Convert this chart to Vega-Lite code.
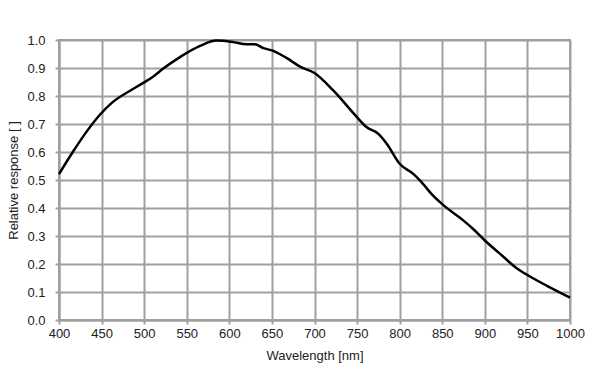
{
  "$schema": "https://vega.github.io/schema/vega-lite/v6.json",
  "width": 511,
  "height": 280,
  "autosize": "none",
  "padding": {"left": 59, "top": 40, "right": 30, "bottom": 59},
  "background": "white",
  "config": {
    "font": "Liberation Sans",
    "view": {"stroke": "#a0a0a0", "strokeWidth": 2}
  },
  "data": {
    "values": [
      {"wl": 400, "r": 0.521},
      {"wl": 416, "r": 0.599},
      {"wl": 432, "r": 0.671},
      {"wl": 448, "r": 0.733},
      {"wl": 463, "r": 0.778},
      {"wl": 483, "r": 0.818},
      {"wl": 498, "r": 0.845},
      {"wl": 510, "r": 0.868},
      {"wl": 522, "r": 0.897},
      {"wl": 542, "r": 0.939},
      {"wl": 565, "r": 0.978},
      {"wl": 585, "r": 0.998},
      {"wl": 604, "r": 0.993},
      {"wl": 620, "r": 0.985},
      {"wl": 630, "r": 0.985},
      {"wl": 640, "r": 0.971},
      {"wl": 651, "r": 0.962},
      {"wl": 667, "r": 0.936},
      {"wl": 683, "r": 0.905},
      {"wl": 700, "r": 0.882},
      {"wl": 722, "r": 0.82},
      {"wl": 750, "r": 0.724},
      {"wl": 761, "r": 0.689},
      {"wl": 775, "r": 0.665},
      {"wl": 785, "r": 0.629},
      {"wl": 800, "r": 0.558},
      {"wl": 816, "r": 0.522},
      {"wl": 824, "r": 0.498},
      {"wl": 839, "r": 0.445},
      {"wl": 851, "r": 0.411},
      {"wl": 875, "r": 0.355},
      {"wl": 886, "r": 0.326},
      {"wl": 900, "r": 0.284},
      {"wl": 918, "r": 0.236},
      {"wl": 937, "r": 0.186},
      {"wl": 951, "r": 0.159},
      {"wl": 973, "r": 0.122},
      {"wl": 1000, "r": 0.08}
    ]
  },
  "mark": {"type": "line", "color": "black", "strokeWidth": 2.5, "interpolate": "monotone"},
  "encoding": {
    "x": {
      "field": "wl", "type": "quantitative",
      "scale": {"domain": [400, 1000], "nice": false, "zero": false},
      "axis": {
        "title": "Wavelength [nm]", "values": [400,450,500,550,600,650,700,750,800,850,900,950,1000], "format": "d", "labelFlush": false,
        "grid": true, "gridColor": "#a0a0a0", "gridWidth": 2, "gridOpacity": 1,
        "domainColor": "#a0a0a0", "domainWidth": 2, "tickColor": "#a0a0a0", "tickWidth": 2, "tickSize": 4,
        "labelFont": "Liberation Sans", "labelFontSize": 13, "labelColor": "#222", "labelPadding": 3,
        "titleFont": "Liberation Sans", "titleFontSize": 13, "titleFontWeight": "normal", "titleColor": "#222", "titlePadding": 9
      }
    },
    "y": {
      "field": "r", "type": "quantitative",
      "scale": {"domain": [0, 1], "nice": false},
      "axis": {
        "title": "Relative response [ ]", "values": [0,0.1,0.2,0.3,0.4,0.5,0.6,0.7,0.8,0.9,1.0], "format": ".1f", "labelFlush": false,
        "grid": true, "gridColor": "#a0a0a0", "gridWidth": 2, "gridOpacity": 1,
        "domainColor": "#a0a0a0", "domainWidth": 2, "tickColor": "#a0a0a0", "tickWidth": 2, "tickSize": 4,
        "labelFont": "Liberation Sans", "labelFontSize": 13, "labelColor": "#222", "labelPadding": 10,
        "titleFont": "Liberation Sans", "titleFontSize": 13, "titleFontWeight": "normal", "titleColor": "#222", "titlePadding": 6
      }
    }
  }
}
